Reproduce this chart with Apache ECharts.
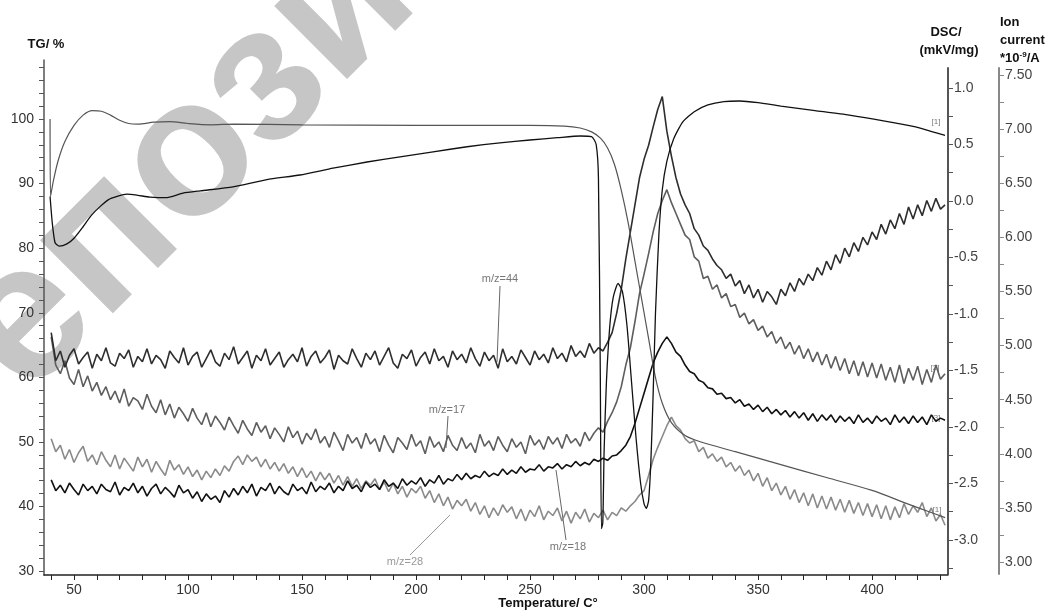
<!DOCTYPE html>
<html><head><meta charset="utf-8">
<script src="https://cdn.jsdelivr.net/npm/echarts@6/dist/echarts.min.js"></script>
<style>html,body{margin:0;padding:0;background:#fff}#c{width:1056px;height:610px}</style>
</head><body><div id="c"></div>
<script>
// ---- Tick labels ----
const xLabels = [50,100,150,200,250,300,350,400];
const xTicks = [40,50,60,70,80,90,100,110,120,130,140,150,160,170,180,190,200,210,220,230,240,250,260,270,280,290,300,310,320,330,340,350,360,370,380,390,400,410,420,430];
const tgLabels = [30,40,50,60,70,80,90,100];
const tgTicks = [30,32,34,36,38,40,42,44,46,48,50,52,54,56,58,60,62,64,66,68,70,72,74,76,78,80,82,84,86,88,90,92,94,96,98,100,102,104,106,108];
const dscLabels = [-3.0,-2.5,-2.0,-1.5,-1.0,-0.5,0.0,0.5,1.0];
const dscTicks = [-3.25,-3.0,-2.75,-2.5,-2.25,-2.0,-1.75,-1.5,-1.25,-1.0,-0.75,-0.5,-0.25,0,0.25,0.5,0.75,1.0];
const ionLabels = [3.0,3.5,4.0,4.5,5.0,5.5,6.0,6.5,7.0,7.5];
const ionTicks = [3.0,3.25,3.5,3.75,4.0,4.25,4.5,4.75,5.0,5.25,5.5,5.75,6.0,6.25,6.5,6.75,7.0,7.25,7.5];

// ---- TG (%) : [temperature, value] ----
const tgData = [[39.5,100],[39.7,88],[41,90.5],[43,93.5],[46,96.5],[50,99],[54,100.6],[58,101.3],[62,101.2],[66,100.6],[70,99.8],[74,99.3],[78,99.2],[85,99.5],[92,99.6],[100,99.3],[110,99.1],[120,99.2],[150,99.1],[200,99.0],[250,99.0],[265,98.9],[272,98.6],[277,98.0],[281,97.0],[284,95.5],[287,93],[290,89],[293,84],[296,78],[299,72],[302,66],[305,60],[308,56],[312,53],[318,51],[325,50],[340,48.5],[360,46.5],[380,44.5],[400,42.5],[415,40.5],[425,39.2],[432,38.3]];

// ---- DSC (mkV/mg) : [temperature, value] ----
const dscData = [[39.5,0.04],[40.5,-0.2],[41.7,-0.37],[43.5,-0.4],[46.9,-0.38],[50,-0.33],[53.9,-0.23],[57.5,-0.13],[61.4,-0.05],[65,0.01],[68.9,0.04],[73.2,0.06],[78,0.05],[83.3,0.035],[90.8,0.03],[97.8,0.07],[105.3,0.09],[119.7,0.125],[134.6,0.19],[149.1,0.23],[163.6,0.29],[178.5,0.345],[193,0.39],[207.5,0.435],[222.4,0.48],[236.8,0.515],[250,0.54],[262,0.56],[272,0.575],[277,0.57],[279,0.5],[280,0.2],[280.8,-1.5],[281.3,-2.9],[281.9,-2.85],[282.5,-2.2],[283.5,-1.6],[285,-1.1],[286.5,-0.85],[288.6,-0.73],[290.5,-0.8],[292.5,-1.1],[294.5,-1.6],[296.5,-2.1],[298.5,-2.5],[300,-2.68],[301,-2.72],[302,-2.65],[303,-2.3],[304,-1.7],[305,-1.0],[306.5,-0.3],[308,0.1],[310,0.35],[313,0.55],[317,0.7],[322,0.79],[328,0.85],[335,0.88],[342,0.885],[350,0.87],[360,0.84],[375,0.8],[390,0.76],[405,0.71],[418,0.66],[427,0.61],[432,0.58]];

// ---- Ion currents (*10^-9 A), read every 2 °C from 40 °C ----
const msStart = 40, msStep = 2;
const mz44 = [5.12,4.86,4.95,4.80,4.91,4.97,4.83,4.89,4.94,4.79,
4.92,4.86,4.98,4.84,4.81,4.93,4.88,4.96,4.80,4.90,
4.85,4.97,4.83,4.91,4.87,4.79,4.95,4.89,4.84,4.98,
4.82,4.90,4.94,4.80,4.88,4.96,4.85,4.81,4.93,4.87,
4.99,4.83,4.89,4.95,4.79,4.91,4.86,4.97,4.82,4.88,
4.94,4.80,4.87,4.92,4.85,4.98,4.81,4.90,4.95,4.84,
4.89,4.96,4.78,4.91,4.86,4.83,4.97,4.88,4.80,4.93,
4.87,4.95,4.82,4.90,4.98,4.84,4.79,4.92,4.88,4.96,
4.81,4.89,4.94,4.83,4.97,4.86,4.90,4.80,4.95,4.87,
4.92,4.84,4.98,4.88,4.81,4.94,4.86,4.91,4.79,4.97,
4.85,4.90,4.83,4.96,4.89,4.82,4.95,4.87,4.92,4.84,
4.98,4.88,4.93,4.85,5.00,4.90,4.95,4.89,5.02,4.93,
4.98,4.95,5.03,5.12,5.30,5.52,5.80,6.05,6.30,6.55,
6.72,6.85,7.02,7.18,7.30,6.98,6.75,6.55,6.40,6.30,
6.22,6.08,6.02,5.92,5.88,5.80,5.74,5.70,5.62,5.66,
5.55,5.60,5.48,5.56,5.44,5.52,5.40,5.50,5.45,5.38,
5.52,5.46,5.58,5.50,5.62,5.56,5.66,5.60,5.72,5.65,
5.78,5.70,5.84,5.76,5.90,5.82,5.95,5.87,6.00,5.93,
6.05,5.98,6.12,6.03,6.16,6.08,6.22,6.12,6.28,6.17,
6.30,6.20,6.34,6.24,6.36,6.26,6.30];
const mz17 = [5.08,4.82,4.74,4.86,4.70,4.64,4.78,4.62,4.72,4.58,
4.66,4.54,4.62,4.50,4.58,4.47,4.60,4.44,4.52,4.49,
4.41,4.55,4.44,4.38,4.50,4.36,4.46,4.33,4.43,4.37,
4.30,4.42,4.33,4.27,4.38,4.25,4.35,4.29,4.22,4.34,
4.26,4.19,4.31,4.23,4.17,4.29,4.20,4.26,4.14,4.24,
4.18,4.11,4.25,4.15,4.21,4.09,4.19,4.13,4.23,4.10,
4.16,4.06,4.20,4.12,4.03,4.18,4.10,4.15,4.05,4.19,
4.09,4.14,4.02,4.17,4.08,4.01,4.15,4.10,4.04,4.18,
4.07,4.12,4.00,4.16,4.06,4.11,4.02,4.17,4.08,4.03,
4.15,4.05,4.10,4.01,4.18,4.07,4.12,4.03,4.16,4.08,
4.02,4.14,4.06,4.11,4.00,4.17,4.08,4.13,4.04,4.16,
4.09,4.15,4.05,4.18,4.10,4.14,4.07,4.20,4.12,4.19,
4.24,4.20,4.30,4.38,4.48,4.62,4.82,4.98,5.22,5.48,
5.66,5.85,6.05,6.22,6.34,6.44,6.32,6.22,6.12,6.02,
5.98,5.82,5.78,5.62,5.64,5.52,5.56,5.44,5.48,5.36,
5.38,5.26,5.30,5.20,5.24,5.14,5.18,5.08,5.13,5.02,
5.08,4.97,5.03,4.92,5.00,4.88,4.97,4.85,4.94,4.82,
4.92,4.79,4.90,4.77,4.88,4.74,4.86,4.72,4.85,4.71,
4.84,4.70,4.83,4.68,4.80,4.66,4.82,4.65,4.79,4.68,
4.81,4.64,4.78,4.66,4.82,4.69,4.74];
const mz18 = [3.76,3.66,3.71,3.64,3.73,3.67,3.62,3.72,3.66,3.70,
3.63,3.72,3.67,3.65,3.74,3.62,3.69,3.66,3.73,3.64,
3.70,3.61,3.68,3.72,3.63,3.69,3.65,3.60,3.71,3.64,
3.67,3.59,3.65,3.56,3.63,3.58,3.61,3.55,3.66,3.60,
3.68,3.62,3.70,3.64,3.72,3.61,3.69,3.66,3.73,3.63,
3.70,3.65,3.62,3.72,3.66,3.69,3.63,3.74,3.65,3.70,
3.67,3.73,3.64,3.70,3.66,3.75,3.68,3.71,3.65,3.74,
3.69,3.72,3.67,3.76,3.70,3.73,3.68,3.77,3.71,3.75,
3.72,3.78,3.70,3.76,3.73,3.80,3.72,3.77,3.75,3.81,
3.76,3.82,3.77,3.80,3.78,3.84,3.79,3.82,3.80,3.86,
3.81,3.85,3.82,3.88,3.83,3.86,3.85,3.90,3.84,3.88,
3.87,3.91,3.86,3.90,3.88,3.93,3.89,3.92,3.90,3.95,
3.93,3.96,3.94,3.98,3.99,4.03,4.08,4.16,4.28,4.42,
4.56,4.70,4.84,4.94,5.02,5.08,5.02,4.94,4.90,4.82,
4.76,4.74,4.68,4.66,4.61,4.60,4.55,4.56,4.51,4.52,
4.47,4.50,4.44,4.46,4.41,4.45,4.39,4.43,4.37,4.41,
4.36,4.40,4.34,4.39,4.33,4.38,4.31,4.37,4.30,4.36,
4.31,4.36,4.29,4.35,4.30,4.34,4.28,4.36,4.29,4.33,
4.28,4.35,4.30,4.33,4.27,4.36,4.29,4.34,4.28,4.35,
4.29,4.34,4.27,4.36,4.30,4.33,4.31];
const mz28 = [4.14,4.02,4.08,3.95,4.04,3.92,4.01,4.07,3.93,3.99,
3.90,4.02,3.94,3.88,3.99,3.86,3.96,3.90,3.84,3.97,
3.88,3.95,3.83,3.93,3.86,3.80,3.94,3.85,3.90,3.81,
3.88,3.79,3.85,3.76,3.84,3.78,3.86,3.80,3.89,3.84,
3.93,3.98,3.90,3.99,3.93,3.97,3.88,3.95,3.86,3.92,
3.84,3.91,3.82,3.88,3.79,3.87,3.78,3.84,3.75,3.83,
3.76,3.82,3.73,3.80,3.71,3.79,3.70,3.77,3.68,3.75,
3.71,3.77,3.67,3.74,3.65,3.73,3.63,3.70,3.60,3.68,
3.64,3.70,3.59,3.66,3.55,3.63,3.52,3.60,3.49,3.57,
3.52,3.58,3.47,3.55,3.44,3.52,3.41,3.50,3.43,3.53,
3.46,3.51,3.40,3.49,3.38,3.48,3.42,3.52,3.39,3.47,
3.43,3.50,3.38,3.47,3.36,3.46,3.40,3.49,3.37,3.45,
3.41,3.48,3.39,3.46,3.43,3.50,3.47,3.52,3.56,3.62,
3.66,3.80,3.95,4.06,4.16,4.26,4.34,4.26,4.22,4.14,
4.10,4.12,4.02,4.06,3.96,4.00,3.93,3.97,3.88,3.92,
3.84,3.89,3.80,3.85,3.75,3.82,3.70,3.78,3.66,3.73,
3.62,3.70,3.58,3.67,3.55,3.64,3.52,3.63,3.50,3.61,
3.49,3.60,3.48,3.58,3.46,3.57,3.45,3.55,3.43,3.54,
3.42,3.53,3.40,3.52,3.39,3.51,3.41,3.54,3.44,3.52,
3.46,3.55,3.42,3.50,3.38,3.44,3.34];

function pairs(arr){ return arr.map((v,i)=>[msStart + msStep*i, v]); }

const FONT = '"Liberation Sans", Arial, sans-serif';
const chart = echarts.init(document.getElementById('c'), null, {renderer:'canvas'});

const xMin = 36.84, xMax = 433.3;
const lbl = (extra) => Object.assign({fontSize:14, color:'#333', fontFamily:FONT}, extra||{});

const option = {
  animation:false,
  backgroundColor:'#fff',
  grid:[
    {left:44, right:108, top:60, bottom:35},
    {left:44, right:108, top:68, bottom:36}
  ],
  xAxis:[
    {gridIndex:0, type:'value', min:xMin, max:xMax,
     axisLine:{lineStyle:{color:'#222', width:1.5}},
     axisTick:{show:true, customValues:xTicks, length:5, lineStyle:{color:'#222'}},
     axisLabel:lbl({customValues:xLabels, margin:8}),
     splitLine:{show:false}},
    {gridIndex:1, type:'value', min:xMin, max:xMax, show:false}
  ],
  yAxis:[
    {gridIndex:0, type:'value', position:'left', min:29.41, max:109.13,
     axisLine:{show:true, lineStyle:{color:'#555', width:1.5}},
     axisTick:{show:true, customValues:tgTicks, length:5, lineStyle:{color:'#555'}},
     axisLabel:lbl({customValues:tgLabels, margin:10}),
     splitLine:{show:false}},
    {gridIndex:1, type:'value', position:'right', min:-3.301, max:1.177,
     axisLine:{show:true, lineStyle:{color:'#555', width:2}},
     axisTick:{show:true, customValues:dscTicks, length:5, lineStyle:{color:'#555'}},
     axisLabel:lbl({customValues:dscLabels, margin:6, color:'#444', formatter:(v)=>Number(v).toFixed(1)}),
     splitLine:{show:false}},
    {gridIndex:1, type:'value', position:'right', offset:51, min:2.89, max:7.564,
     axisLine:{show:true, lineStyle:{color:'#888', width:2}},
     axisTick:{show:true, customValues:ionTicks, length:5, lineStyle:{color:'#888'}},
     axisLabel:lbl({customValues:ionLabels, margin:6, color:'#444', formatter:(v)=>Number(v).toFixed(2)}),
     splitLine:{show:false}}
  ],
  series:[
    {name:'m/z=28', type:'line', xAxisIndex:1, yAxisIndex:2, data:pairs(mz28), showSymbol:false, lineStyle:{color:'#8a8a8a', width:1.6}},
    {name:'m/z=17', type:'line', xAxisIndex:1, yAxisIndex:2, data:pairs(mz17), showSymbol:false, lineStyle:{color:'#5e5e5e', width:1.6}},
    {name:'m/z=18', type:'line', xAxisIndex:1, yAxisIndex:2, data:pairs(mz18), showSymbol:false, lineStyle:{color:'#111', width:1.6}},
    {name:'m/z=44', type:'line', xAxisIndex:1, yAxisIndex:2, data:pairs(mz44), showSymbol:false, lineStyle:{color:'#2e2e2e', width:1.6}},
    {name:'TG', type:'line', xAxisIndex:0, yAxisIndex:0, data:tgData, showSymbol:false, smooth:0.3, lineStyle:{color:'#555', width:1.2}},
    {name:'DSC', type:'line', xAxisIndex:1, yAxisIndex:1, data:dscData, showSymbol:false, smooth:0.2, lineStyle:{color:'#111', width:1.3}}
  ],
  graphic:[
    {type:'text', z:0, x:-100, y:450, rotation:45*Math.PI/180, silent:true,
     style:{text:'Репозиторий', font:'bold 195px "Liberation Sans", Arial, sans-serif', fill:'#c6c6c6', textAlign:'left', textVerticalAlign:'middle'}},
    {type:'text', x:46, y:44, style:{text:'TG/ %', font:'bold 13px '+FONT, fill:'#111', textAlign:'center', textVerticalAlign:'middle'}},
    {type:'text', x:946, y:32, style:{text:'DSC/', font:'bold 13px '+FONT, fill:'#111', textAlign:'center', textVerticalAlign:'middle'}},
    {type:'text', x:949, y:50, style:{text:'(mkV/mg)', font:'bold 13px '+FONT, fill:'#111', textAlign:'center', textVerticalAlign:'middle'}},
    {type:'text', x:1000, y:22, style:{text:'Ion', font:'bold 13px '+FONT, fill:'#111', textAlign:'left', textVerticalAlign:'middle'}},
    {type:'text', x:1000, y:40, style:{text:'current', font:'bold 13px '+FONT, fill:'#111', textAlign:'left', textVerticalAlign:'middle'}},
    {type:'text', x:1000, y:58, style:{text:'*10{s|-9}/A', font:'bold 13px '+FONT, fill:'#111', textAlign:'left', textVerticalAlign:'middle',
       rich:{s:{fontSize:8, fontWeight:'bold', fontFamily:FONT, verticalAlign:'top', padding:[0,0,6,0]}}}},
    {type:'text', x:548, y:603, style:{text:'Temperature/ C°', font:'bold 13px '+FONT, fill:'#111', textAlign:'center', textVerticalAlign:'middle'}},
    // curve annotations
    {type:'text', x:500, y:279, style:{text:'m/z=44', font:'11px '+FONT, fill:'#777', textAlign:'center', textVerticalAlign:'middle'}},
    {type:'line', shape:{x1:500, y1:286, x2:497, y2:362}, style:{stroke:'#666', lineWidth:1}},
    {type:'text', x:447, y:410, style:{text:'m/z=17', font:'11px '+FONT, fill:'#777', textAlign:'center', textVerticalAlign:'middle'}},
    {type:'line', shape:{x1:448, y1:416, x2:446, y2:448}, style:{stroke:'#666', lineWidth:1}},
    {type:'text', x:568, y:547, style:{text:'m/z=18', font:'11px '+FONT, fill:'#777', textAlign:'center', textVerticalAlign:'middle'}},
    {type:'line', shape:{x1:566, y1:540, x2:556, y2:470}, style:{stroke:'#666', lineWidth:1}},
    {type:'text', x:405, y:562, style:{text:'m/z=28', font:'11px '+FONT, fill:'#999', textAlign:'center', textVerticalAlign:'middle'}},
    {type:'line', shape:{x1:410, y1:555, x2:450, y2:515}, style:{stroke:'#999', lineWidth:1}},
    {type:'text', x:936, y:122, style:{text:'[1]', font:'8px '+FONT, fill:'#777', textAlign:'center', textVerticalAlign:'middle'}},
    {type:'text', x:935, y:368, style:{text:'[2]', font:'8px '+FONT, fill:'#777', textAlign:'center', textVerticalAlign:'middle'}},
    {type:'text', x:936, y:418, style:{text:'[3]', font:'8px '+FONT, fill:'#777', textAlign:'center', textVerticalAlign:'middle'}},
    {type:'text', x:937, y:510, style:{text:'[1]', font:'8px '+FONT, fill:'#777', textAlign:'center', textVerticalAlign:'middle'}}
  ]
};
chart.setOption(option);
</script></body></html>
